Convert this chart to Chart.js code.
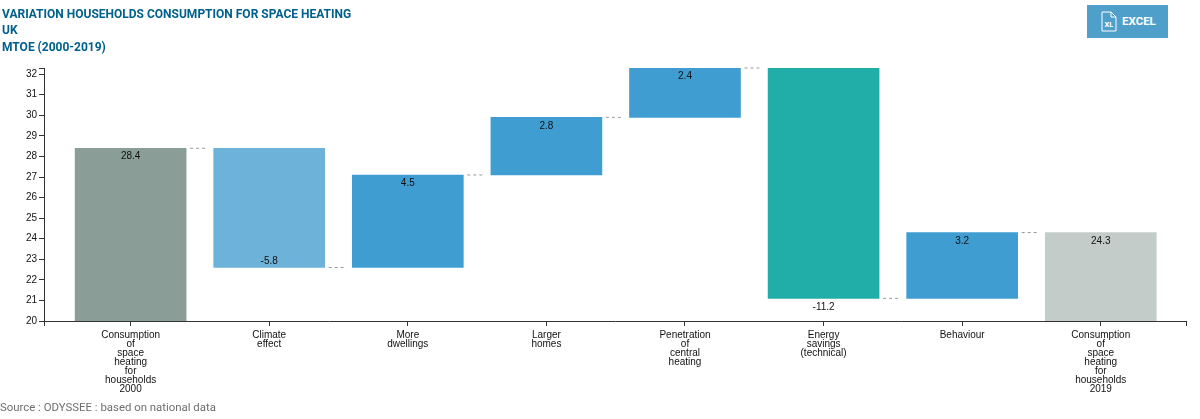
<!DOCTYPE html>
<html>
<head>
<meta charset="utf-8">
<title>Variation households consumption for space heating</title>
<script src="https://cdn.jsdelivr.net/npm/chart.js@4/dist/chart.umd.min.js"></script>
<style>
    html, body { margin: 0; padding: 0; background: #fff; }
    body { position: relative; width: 1200px; height: 419px; overflow: hidden; font-family: Roboto, sans-serif; }
    #chart { position: absolute; left: 0; top: 0; }
    #title { position: absolute; left: 2px; top: 6px; font-size: 12px; font-weight: 700; line-height: 16.4px; color: #00608c; }
    #source { position: absolute; left: 0; top: 399px; font-size: 11.4px; line-height: 16px; color: #6e6e6e; }
    #excel { position: absolute; left: 1087px; top: 5px; width: 81px; height: 33px; background: #4f9fcb; color: #fff; font-size: 11.5px; font-weight: 700; line-height: 33px; }
    #excel svg { position: absolute; left: 14px; top: 6px; }
    #excel span { position: absolute; left: 35px; }
</style>
</head>
<body>
<canvas id="chart" width="1200" height="419"></canvas>
<div id="title">VARIATION HOUSEHOLDS CONSUMPTION FOR SPACE HEATING<br>UK<br>MTOE (2000-2019)</div>
<div id="excel">
    <svg width="16" height="21" viewBox="0 0 16 21">
        <path d="M1 1H10L15 6V20H1Z M10 1V6H15" fill="none" stroke="#fff" stroke-width="1"/>
        <text x="8" y="15.5" text-anchor="middle" font-size="7.5" font-weight="700" fill="#fff">XL</text>
    </svg>
    <span>EXCEL</span>
</div>
<div id="source">Source : ODYSSEE : based on national data</div>

<script>
const categories = [
    ["Consumption", "of", "space", "heating", "for", "households", "2000"],
    ["Climate", "effect"],
    ["More", "dwellings"],
    ["Larger", "homes"],
    ["Penetration", "of", "central", "heating"],
    ["Energy", "savings", "(technical)"],
    ["Behaviour"],
    ["Consumption", "of", "space", "heating", "for", "households", "2019"]
];
const values = [28.4, -5.8, 4.5, 2.8, 2.4, -11.2, 3.2, 24.3];
const colors = ["#8a9e97", "#6db3d9", "#409dd1", "#409dd1", "#409dd1", "#22aea8", "#409dd1", "#c3ccc9"];
const yTicks = [20, 21, 22, 23, 24, 25, 26, 27, 28, 29, 30, 31, 32];

const yMin = 20;
const yMax = 32.3;
const xMin = -0.625;
const xMax = 7.615;
const barWidth = 111;

// Running total gives the floating bars of the waterfall
let levels = [];
let bars = [];
values.forEach((v, i) => {
    if (i === 0 || i === values.length - 1) {
        bars.push({ x: i, y: [yMin, v] });
        levels.push(v);
    } else {
        let next = Math.round((levels[i - 1] + v) * 10) / 10;
        bars.push({ x: i, y: [levels[i - 1], next] });
        levels.push(next);
    }
});

// Dashed connectors and value labels, placed through the chart scales
const waterfallPlugin = {
    id: "waterfall",
    afterDatasetsDraw(chart) {
        let ctx = chart.ctx;
        let xs = chart.scales.x;
        let ys = chart.scales.y;
        ctx.save();

        ctx.strokeStyle = "#999";
        ctx.lineWidth = 1;
        ctx.setLineDash([3, 3]);
        levels.slice(0, -1).forEach((level, i) => {
            let x = xs.getPixelForValue(i) + barWidth / 2 + 4;
            let y = ys.getPixelForValue(level);
            ctx.beginPath();
            ctx.moveTo(x, y);
            ctx.lineTo(x + 18, y);
            ctx.stroke();
        });
        ctx.setLineDash([]);

        ctx.font = "10px 'Liberation Sans'";
        ctx.fillStyle = "#111";
        ctx.textAlign = "center";
        ctx.textBaseline = "middle";
        values.forEach((v, i) => {
            let x = xs.getPixelForValue(i);
            let y;
            if (v >= 0) {
                y = ys.getPixelForValue(bars[i].y[1]) + 8.5;
            } else if (v < -10) {
                y = ys.getPixelForValue(bars[i].y[1]) + 8.5; // big drop: label sits under the bar
            } else {
                y = ys.getPixelForValue(bars[i].y[1]) - 6.5;
            }
            ctx.fillText(String(v), x, y);
        });
        ctx.restore();
    }
};

new Chart(document.getElementById("chart"), {
    type: "bar",
    data: {
        datasets: [{
            data: bars,
            backgroundColor: colors,
            borderWidth: 0,
            barThickness: barWidth
        }]
    },
    plugins: [waterfallPlugin],
    options: {
        responsive: false,
        animation: false,
        layout: { padding: { top: 68, right: 14, left: 0, bottom: 0 } },
        plugins: {
            legend: { display: false },
            tooltip: { enabled: false }
        },
        scales: {
            x: {
                type: "linear",
                min: xMin,
                max: xMax,
                offset: false,
                afterBuildTicks(scale) {
                    scale.ticks = [xMin].concat(categories.map((c, i) => i), [xMax]).map(v => ({ value: v }));
                },
                afterFit(scale) {
                    scale.height = 98;
                    scale.paddingLeft = 0;
                    scale.paddingRight = 0;
                },
                border: { display: true, color: "#333", width: 1 },
                grid: { display: true, offset: false, drawOnChartArea: false, drawTicks: true, tickLength: 5, color: "#333" },
                ticks: {
                    autoSkip: false,
                    maxRotation: 0,
                    minRotation: 0,
                    padding: 5,
                    color: "#111",
                    font: { family: "'Liberation Sans'", size: 10, lineHeight: 0.9 },
                    callback: value => categories[value] || ""
                }
            },
            y: {
                min: yMin,
                max: yMax,
                afterBuildTicks(scale) {
                    scale.ticks = yTicks.concat([yMax]).map(v => ({ value: v }));
                },
                afterFit(scale) {
                    scale.width = 44;
                    scale.paddingTop = 0;
                    scale.paddingBottom = 0;
                },
                border: { display: true, color: "#333", width: 1 },
                grid: { display: true, drawOnChartArea: false, drawTicks: true, tickLength: 5, color: "#333" },
                ticks: {
                    padding: 2,
                    color: "#111",
                    font: { family: "'Liberation Sans'", size: 10 },
                    callback: value => yTicks.includes(value) ? String(value) : ""
                }
            }
        }
    }
});
</script>
</body>
</html>
